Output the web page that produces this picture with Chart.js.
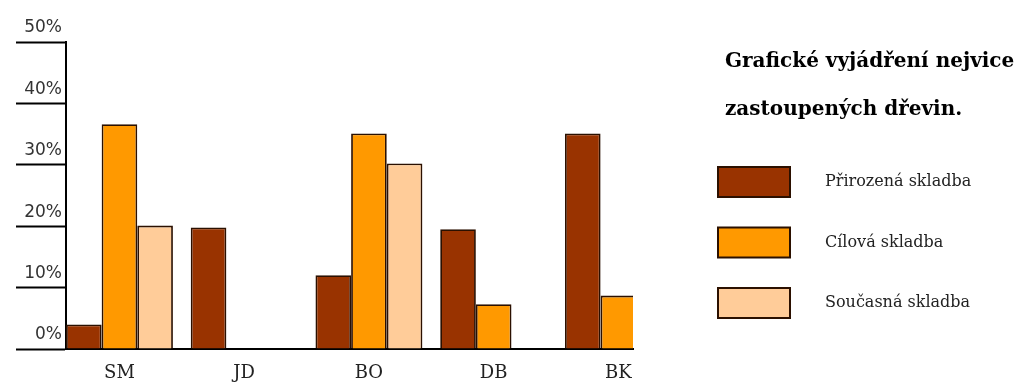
<!DOCTYPE html>
<html>
<head>
<meta charset="utf-8">
<script src="https://cdn.jsdelivr.net/npm/chart.js@4/dist/chart.umd.min.js"></script>
<style>
  html, body { margin: 0; padding: 0; background: #fff; }
  #wrap { width: 1024px; height: 385px; position: relative; }
</style>
</head>
<body>
<div id="wrap"><canvas id="treeChart"></canvas></div>
<script>
// --- data ---
const categories = ['SM', 'JD', 'BO', 'DB', 'BK'];
const naturalValues = [4, 19.8, 12, 19.5, 35.1];      // Přirozená skladba
const targetValues = [36.6, null, 35.1, 7.3, 8.7];    // Cílová skladba
const currentValues = [20.1, null, 30.2, null, null]; // Současná skladba
const yTicks = [0, 10, 20, 30, 40, 50];

const seriesNames = ['Přirozená skladba', 'Cílová skladba', 'Současná skladba'];
const seriesColors = ['#993300', '#FF9900', '#FFCC99'];
const titleLines = ['Grafické vyjádření nejvice', 'zastoupených dřevin.'];

const toPoints = (vals) => vals.map((v, i) => ({ x: i, y: v }));

// title + legend drawn on the right side of the canvas
const sideLegend = {
  id: 'sideLegend',
  afterDraw(chart) {
    const ctx = chart.ctx;
    ctx.save();
    ctx.fillStyle = '#000';
    ctx.textBaseline = 'middle';
    ctx.textAlign = 'left';
    ctx.font = "bold 20px 'DejaVu Serif'";
    ctx.fillText(titleLines[0], 725, 62);
    ctx.fillText(titleLines[1], 725, 110);

    ctx.font = "16px 'DejaVu Serif'";
    chart.data.datasets.forEach((ds, i) => {
      const y = 167 + i * 60.5;
      ctx.fillStyle = ds.backgroundColor;
      ctx.fillRect(718, y, 72, 30);
      ctx.strokeStyle = '#2b1000';
      ctx.lineWidth = 2;
      ctx.strokeRect(718, y, 72, 30);
      ctx.fillStyle = '#222';
      ctx.fillText(ds.label, 825, y + 15);
    });
    ctx.restore();
  }
};

const barOpts = {
  borderColor: '#2b1000',
  borderWidth: 1.8,
  categoryPercentage: 3 / 3.5,
  barPercentage: 1
};

new Chart(document.getElementById('treeChart'), {
  type: 'bar',
  data: {
    datasets: [
      Object.assign({ label: seriesNames[0], data: toPoints(naturalValues), backgroundColor: seriesColors[0] }, barOpts),
      Object.assign({ label: seriesNames[1], data: toPoints(targetValues), backgroundColor: seriesColors[1] }, barOpts),
      Object.assign({ label: seriesNames[2], data: toPoints(currentValues), backgroundColor: seriesColors[2] }, barOpts)
    ]
  },
  options: {
    responsive: true,
    maintainAspectRatio: false,
    animation: false,
    layout: { padding: { top: 42, right: 391, left: 0, bottom: 0 } },
    plugins: {
      legend: { display: false },
      tooltip: { enabled: false }
    },
    scales: {
      x: {
        type: 'linear',
        offset: false,
        min: -1.5 / 3.5,
        max: 4.117,
        grid: { display: false },
        border: { display: true, color: '#000', width: 2 },
        afterBuildTicks: (scale) => {
          scale.ticks = categories.map((c, i) => ({ value: i }));
        },
        afterFit: (scale) => { scale.height = 36; },
        ticks: {
          padding: 6,
          maxRotation: 0,
          autoSkip: false,
          color: '#222',
          font: { family: "'DejaVu Serif'", size: 18 },
          callback: (v) => categories[v]
        }
      },
      y: {
        min: yTicks[0],
        max: yTicks[yTicks.length - 1],
        afterBuildTicks: (scale) => {
          scale.ticks = yTicks.map((v) => ({ value: v }));
        },
        afterFit: (scale) => { scale.width = 66; },
        grid: {
          drawOnChartArea: false,
          drawTicks: true,
          tickLength: 50,
          tickColor: '#000',
          tickWidth: 2
        },
        border: { display: true, color: '#000', width: 2 },
        ticks: {
          padding: -46,
          labelOffset: -14,
          color: '#333',
          font: { family: "'DejaVu Sans'", size: 17 },
          callback: (v) => v + '%'
        }
      }
    }
  },
  plugins: [sideLegend]
});
</script>
</body>
</html>
